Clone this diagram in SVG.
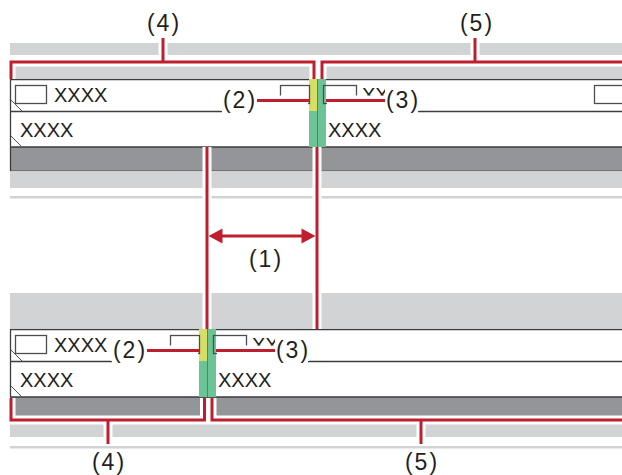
<svg xmlns="http://www.w3.org/2000/svg" width="622" height="475" viewBox="0 0 622 475">
<defs>
<style>
.lg{fill:#d1d3d4}
.dg{fill:#939598}
.wt{fill:#fff}
.ln{stroke:#3d3d3d;stroke-width:1.3;fill:none}
.thin{stroke:#555;stroke-width:1;fill:none}
.box{fill:none;stroke:#4d4d4d;stroke-width:1.3}
.tx{font-family:"Liberation Sans",Arial,sans-serif;font-size:20px;fill:#231f20}
.lb{font-family:"Liberation Sans",Arial,sans-serif;font-size:23px;fill:#231f20;text-anchor:middle;letter-spacing:2px}
.halo{stroke:#fff;stroke-width:9;fill:none}
.red{stroke:#be1e2d;stroke-width:3;fill:none}
.yel{fill:#d6de63}
.grn{fill:#6cc496}
.div{stroke:#3f8f5f;stroke-width:1;fill:none}
.ah{fill:#be1e2d}
</style>
</defs>

<g id="top-panel">
  <rect class="lg" x="10" y="43" width="612" height="12"/>
  <rect class="lg" x="10" y="66" width="612" height="12"/>
  <rect class="wt" x="10" y="79" width="612" height="68"/>
  <rect class="dg" x="10" y="147" width="612" height="24"/>
  <rect class="lg" x="10" y="172" width="612" height="16"/>
  <rect class="lg" x="10" y="196" width="612" height="2.5"/>
  <path class="ln" d="M10,79.5H622M10.5,79V171M10,147H622M10,111.5H222M418,111.5H622"/>
  <path class="ln" d="M10,170.8H622" stroke-opacity="0.5"/>
  <path class="thin" d="M11,100L22,111M11,136L22,147"/>
  <rect class="yel" x="309" y="79" width="8.5" height="32"/>
  <rect class="grn" x="317.5" y="79" width="8.5" height="32"/>
  <rect class="grn" x="309" y="111" width="17" height="36"/>
  <path class="div" d="M317.5,79V147"/>
  <rect class="box" x="15.5" y="85.5" width="31" height="18"/>
  <text class="tx" x="54" y="102">XXXX</text>
  <text class="tx" x="20" y="137">XXXX</text>
  <rect class="box" x="280.5" y="85.5" width="29" height="18"/>
  <rect class="box" x="323.5" y="85.5" width="33" height="18"/>
  <text class="tx" x="362" y="102">XX</text>
  <text class="tx" x="328" y="137">XXXX</text>
  <rect class="box" x="594.5" y="85.5" width="40" height="18"/>
  <rect class="wt" x="222" y="95.5" width="86" height="15"/>
  <rect class="wt" x="327" y="95.5" width="91" height="15"/>
  <rect class="wt" x="221" y="84" width="36" height="27"/>
  <rect class="wt" x="385" y="84" width="34" height="27"/>
</g>

<g id="bottom-panel">
  <rect class="lg" x="10" y="293" width="612" height="35"/>
  <rect class="wt" x="10" y="329" width="612" height="68"/>
  <rect class="dg" x="10" y="397" width="612" height="20"/>
  <rect class="lg" x="10" y="424" width="612" height="13"/>
  <rect class="lg" x="10" y="446" width="612" height="2.5"/>
  <path class="ln" d="M10,329.5H622M10.5,329V397M10,397H622M10,361.5H112M308,361.5H622"/>
  <path class="thin" d="M11,350L22,361M11,386L22,397"/>
  <rect class="yel" x="199" y="329" width="8.5" height="32"/>
  <rect class="grn" x="207.5" y="329" width="8.5" height="32"/>
  <rect class="grn" x="199" y="361" width="17" height="36"/>
  <path class="div" d="M207.5,329V397"/>
  <rect class="box" x="15.5" y="335.5" width="31" height="18"/>
  <text class="tx" x="54" y="352">XXXX</text>
  <text class="tx" x="20" y="387">XXXX</text>
  <rect class="box" x="170.5" y="335.5" width="29" height="18"/>
  <rect class="box" x="213.5" y="335.5" width="33" height="18"/>
  <text class="tx" x="252" y="352">XX</text>
  <text class="tx" x="218" y="387">XXXX</text>
  <rect class="wt" x="112" y="345.5" width="86" height="15"/>
  <rect class="wt" x="217" y="345.5" width="91" height="15"/>
  <rect class="wt" x="111" y="334" width="36" height="27"/>
  <rect class="wt" x="275" y="334" width="34" height="27"/>
</g>

<g id="connectors">
  <path class="halo" d="M11,79V62H314V79M163,38V62M322,79V62H622M475,38V62"/>
  <path class="halo" d="M207,147V329M317,147V329"/>
  <path class="halo" d="M11,398V420H204.5V398M108,420V444M212,398V420H622M421,420V444"/>
  <path class="red" d="M11,79V62H314V79M163,38V62"/>
  <path class="red" d="M322,79V62H622M475,38V62"/>
  <path class="red" d="M207,147V329M317,147V329"/>
  <path class="red" d="M11,398V420H204.5V398M108,420V444"/>
  <path class="red" d="M212,398V420H622M421,420V444"/>
  <path class="red" d="M257,100.5H310M326,100.5H385"/>
  <path class="red" d="M147,350.5H200M216,350.5H275"/>
  <path class="red" d="M219,236H305"/>
  <polygon class="ah" points="208.5,236 222.5,228.5 222.5,243.5"/>
  <polygon class="ah" points="315.5,236 301.5,228.5 301.5,243.5"/>
</g>

<g id="labels">
  <text class="lb" x="164" y="31">(4)</text>
  <text class="lb" x="477" y="31">(5)</text>
  <text class="lb" x="266" y="267">(1)</text>
  <text class="lb" x="240" y="108">(2)</text>
  <text class="lb" x="403" y="108">(3)</text>
  <text class="lb" x="130" y="358">(2)</text>
  <text class="lb" x="293" y="358">(3)</text>
  <text class="lb" x="109" y="470">(4)</text>
  <text class="lb" x="422" y="470">(5)</text>
</g>
</svg>
